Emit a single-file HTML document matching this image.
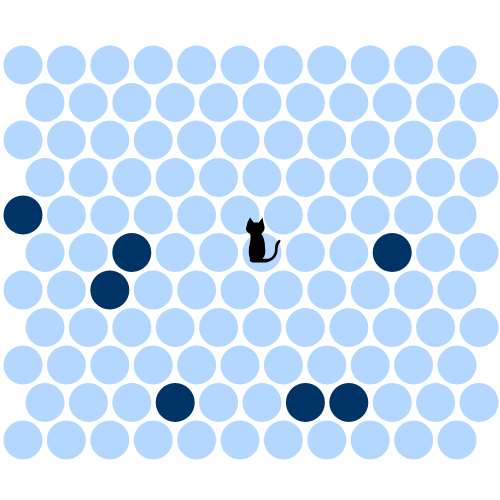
<!DOCTYPE html>
<html><head><meta charset="utf-8"><style>html,body{margin:0;padding:0;background:#fff}svg{display:block}</style></head>
<body>
<svg id="board" width="500" height="500" viewBox="0 0 500 500"></svg>
<script>
const rows = 11;
const cols = 11;
const walls = [[4,0],[5,2],[5,8],[6,2],[9,3],[9,6],[9,7]];
const catCell = [5,5];
const svg = document.getElementById('board');
const NS = 'http://www.w3.org/2000/svg';
function cx(r,c){ return 23 + c*43.4 + (r%2 ? 22 : 0); }
function cy(r){ return 65 + r*37.5; }
for (let r=0;r<rows;r++){
  for (let c=0;c<cols;c++){
    const isWall = walls.some(w=>w[0]===r&&w[1]===c);
    const el = document.createElementNS(NS,'circle');
    el.setAttribute('cx',cx(r,c));
    el.setAttribute('cy',cy(r));
    el.setAttribute('r',19.5);
    el.setAttribute('fill',isWall?'#003366':'#b3d7ff');
    
    
    svg.appendChild(el);
  }
}
const g = document.createElementNS(NS,'g');
const x0 = cx(catCell[0],catCell[1]), y0 = cy(catCell[0]);
g.setAttribute('transform','translate('+(x0-17)+','+(y0-35)+') scale(1.25)');


g.innerHTML = '<path fill="#000" d="M2,4 L4,0 L7,4 L11,4 L14,0 L15,5 Q17,10 13,13 Q16,17 16,24 Q17,30 14,33 L19,33 Q24,31 24,25 Q24,20 27,18 Q29,17 28,20 Q26,22 26,27 Q25,34 17,36 L6,36 Q3,35 4,33 Q2,28 4,20 Q5,15 4,13 Q0,11 1,8 Z"/>';
svg.appendChild(g);
</script>
</body></html>
